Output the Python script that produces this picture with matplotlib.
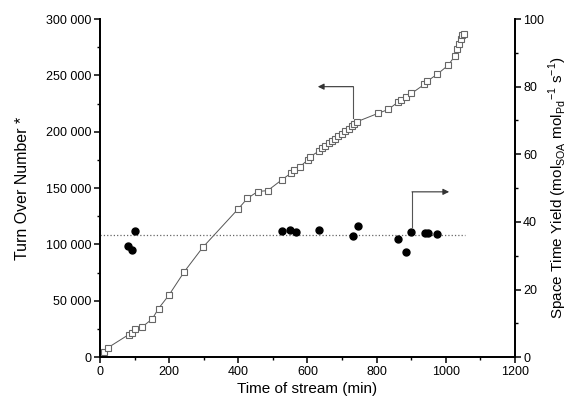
import matplotlib
matplotlib.use('Agg')
import matplotlib.pyplot as plt
from matplotlib.ticker import MultipleLocator, FuncFormatter

plt.rcParams['font.family'] = ['Liberation Sans', 'DejaVu Sans']

# Turn over number (open squares, left axis)
ton_time = [12, 22, 83, 92, 102, 122, 151, 169, 199, 244, 297, 400, 426, 456,
            485, 526, 551, 562, 578, 601, 608, 634, 642, 650, 661, 670, 680,
            689, 699, 708, 720, 729, 734, 744, 804, 834, 863, 870, 886, 901,
            938, 947, 975, 1007, 1027, 1033, 1038, 1043, 1047, 1052]
ton = [4200, 8300, 20100, 21900, 24600, 26900, 34000, 43200, 55000, 76000,
       97400, 131700, 140800, 147000, 147800, 157400, 163000, 165700, 168900,
       175100, 177800, 183100, 185200, 187300, 189700, 191800, 193800, 196000,
       198000, 200400, 202600, 204800, 206500, 209000, 216300, 219800, 226600,
       228100, 231000, 234000, 242000, 245000, 250900, 258900, 267400, 273400,
       278000, 282000, 285500, 287000]

# Space time yield (filled circles, right axis)
sty_time = [81, 92, 102, 525, 550, 567, 632, 733, 745, 863, 886, 901, 939, 948, 976]
sty = [32.9, 31.6, 37.3, 37.4, 37.6, 36.9, 37.5, 35.9, 38.8, 34.9, 31.1, 36.9,
       36.8, 36.6, 36.3]
sty_mean = 36.0
mean_range = [0, 1055]

fig, ax = plt.subplots(figsize=(5.72, 4.05), dpi=100)
plt.subplots_adjust(left=0.175, right=0.9, bottom=0.118, top=0.953)
ax2 = ax.twinx()

ax.plot(ton_time, ton, '-', color='#555555', lw=0.7, marker='s', ms=4.8,
        mfc='white', mec='#666666', mew=0.8, zorder=3)
ax2.plot(sty_time, sty, 'o', color='black', ms=5, zorder=3)
ax2.plot(mean_range, [sty_mean, sty_mean], ':', color='#666666', lw=0.9)

# arrows pointing to each axis
ax.plot([732, 732], [212000, 240000], color='#555555', lw=0.8)
ax.annotate('', xy=(630, 240000), xytext=(733, 240000),
            arrowprops=dict(arrowstyle='-|>', color='#333333', lw=0.8,
                            mutation_scale=9, shrinkA=0, shrinkB=0))
ax2.plot([903, 903], [38.5, 48.9], color='#555555', lw=0.8)
ax2.annotate('', xy=(1010, 48.9), xytext=(902.5, 48.9),
             arrowprops=dict(arrowstyle='-|>', color='#333333', lw=0.8,
                             mutation_scale=9, shrinkA=0, shrinkB=0))

ax.set_xlim(0, 1200)
ax.set_ylim(0, 300000)
ax2.set_ylim(0, 100)

ax.xaxis.set_major_locator(MultipleLocator(200))
ax.xaxis.set_minor_locator(MultipleLocator(100))
ax.yaxis.set_major_locator(MultipleLocator(50000))
ax.yaxis.set_minor_locator(MultipleLocator(25000))
ax2.yaxis.set_major_locator(MultipleLocator(20))
ax2.yaxis.set_minor_locator(MultipleLocator(10))
ax.yaxis.set_major_formatter(FuncFormatter(lambda v, p: f'{int(v):,}'.replace(',', ' ')))

for a in (ax, ax2):
    a.spines['top'].set_visible(False)
    for s in a.spines.values():
        s.set_linewidth(1.3)
    a.tick_params(which='major', length=4, width=1.1, labelsize=9, pad=2)
    a.tick_params(which='minor', length=2.5, width=1.0)

ax.set_xlabel('Time of stream (min)', fontsize=11, labelpad=3)
ax.set_ylabel('Turn Over Number *', fontsize=11.5, labelpad=12)
ax2.set_ylabel(r'Space Time Yield (mol$_{\mathregular{SOA}}$ mol$_{\mathregular{Pd}}$$^{\mathregular{-1}}$ s$^{\mathregular{-1}}$)',
               fontsize=11, labelpad=2)

fig.savefig('out.png', dpi=100)
